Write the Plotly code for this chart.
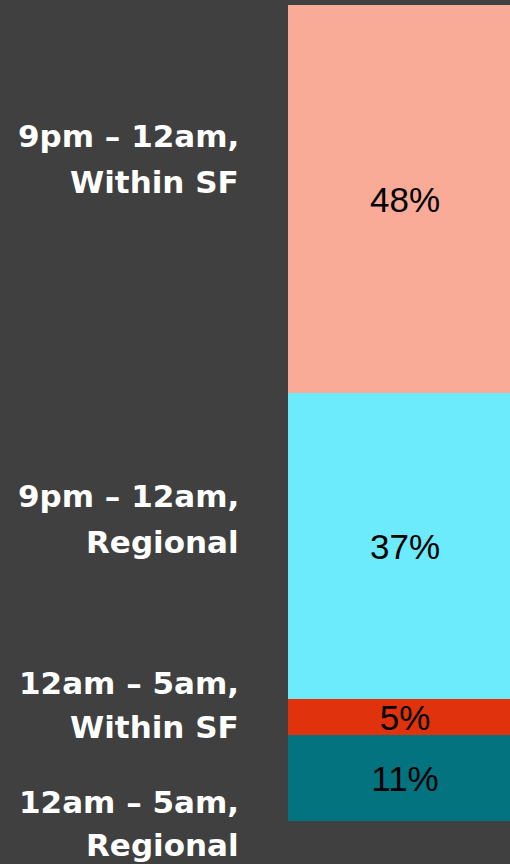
import plotly.graph_objects as go

# Data (top segment first)
line1 = ["9pm – 12am,", "9pm – 12am,", "12am – 5am,", "12am – 5am,"]
line2 = ["Within SF", "Regional", "Within SF", "Regional"]
shares = [47.6, 37.4, 4.5, 10.5]
share_labels = ["48%", "37%", "5%", "11%"]
colors = ["#F9AB98", "#6BEBFC", "#E0330D", "#02737F"]

# label line offsets (px) relative to segment centre
shift1 = [63, 50, 34, -24]
shift2 = [17, 4, -10, -67]

fig = go.Figure()
n = len(shares)
# stack bottom to top
for i in reversed(range(n)):
    fig.add_trace(go.Bar(
        x=[0], y=[shares[i]], width=1,
        marker=dict(color=colors[i], line=dict(width=0)),
        text=[share_labels[i]], textposition="inside",
        insidetextanchor="middle",
        textfont=dict(family="Liberation Sans, Arial", size=35, color="#000000"),
        hoverinfo="skip", showlegend=False,
    ))

# segment centres
total = sum(shares)
centres = []
acc = 0
for i in reversed(range(n)):
    centres.append(acc + shares[i] / 2)
    acc += shares[i]
centres = list(reversed(centres))

lab_font = dict(family="DejaVu Sans", size=31, color="#FFFFFF")
for i in range(n):
    for txt, sh in ((line1[i], shift1[i]), (line2[i], shift2[i])):
        fig.add_annotation(
            x=241 / 510, xref="paper", xanchor="right",
            y=centres[i], yref="y", yanchor="middle", yshift=sh,
            text="<b>" + txt + "</b>", showarrow=False, font=lab_font,
        )

H = 864
px_per_unit = 816 / total
fig.update_layout(
    width=510, height=H,
    margin=dict(l=0, r=0, t=0, b=0),
    paper_bgcolor="#404040", plot_bgcolor="#404040",
    barmode="stack", bargap=0,
    uniformtext=dict(minsize=35, mode="show"),
    xaxis=dict(range=[-0.5 - 288 / 234, -0.5 + 222 / 234], visible=False, fixedrange=True),
    yaxis=dict(range=[-(H - 821) / px_per_unit, total + 5 / px_per_unit], visible=False, fixedrange=True),
)

fig.write_html(
    "out.html",
    config={"displayModeBar": False},
    post_script="document.body.style.margin='0px';document.body.style.background='#404040';",
)
